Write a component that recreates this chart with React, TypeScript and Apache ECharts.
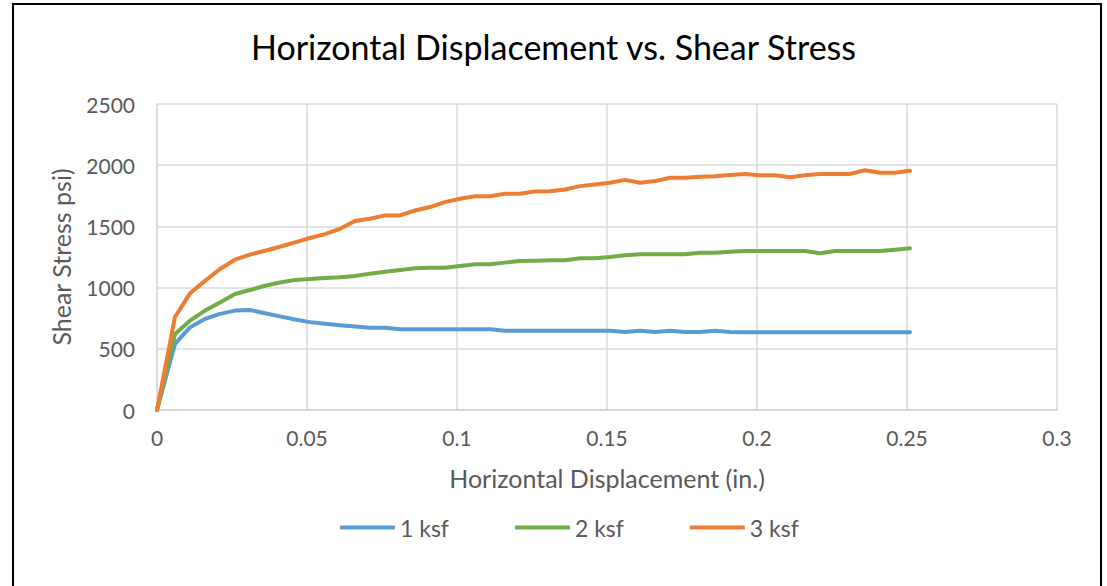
import React, { useEffect, useRef } from "react";
import * as echarts from "echarts";

const displacement = [
  0, 0.006, 0.011, 0.016, 0.021, 0.026, 0.031, 0.036, 0.041, 0.046, 0.051, 0.056, 0.061,
  0.066, 0.071, 0.076, 0.081, 0.086, 0.091, 0.096, 0.101, 0.106, 0.111, 0.116, 0.121, 0.126,
  0.131, 0.136, 0.141, 0.146, 0.151, 0.156, 0.161, 0.166, 0.171, 0.176, 0.181, 0.186, 0.191,
  0.196, 0.201, 0.206, 0.211, 0.216, 0.221, 0.226, 0.231, 0.236, 0.241, 0.246, 0.251,
];

const ksf1 = [
  0, 540, 675, 744, 785, 812, 817, 790, 765, 740, 718, 705, 692,
  682, 672, 672, 660, 660, 660, 660, 660, 660, 660, 648, 648, 648,
  648, 648, 648, 648, 648, 638, 648, 638, 648, 638, 638, 648, 638,
  636, 636, 636, 636, 636, 636, 636, 636, 636, 636, 636, 636,
];

const ksf2 = [
  0, 621, 730, 812, 879, 948, 980, 1015, 1042, 1062, 1070, 1078, 1085,
  1095, 1114, 1130, 1144, 1158, 1163, 1163, 1177, 1190, 1190, 1204, 1217, 1220,
  1223, 1223, 1239, 1239, 1250, 1264, 1272, 1272, 1272, 1272, 1285, 1285, 1292,
  1299, 1299, 1299, 1299, 1299, 1280, 1299, 1299, 1299, 1299, 1310, 1321,
];

const ksf3 = [
  0, 760, 953, 1055, 1152, 1228, 1270, 1301, 1334, 1369, 1405, 1437, 1480,
  1544, 1563, 1590, 1590, 1630, 1658, 1698, 1726, 1747, 1747, 1766, 1766, 1786,
  1788, 1802, 1829, 1842, 1856, 1880, 1856, 1870, 1897, 1897, 1905, 1910, 1920,
  1929, 1918, 1918, 1902, 1918, 1929, 1929, 1929, 1959, 1938, 1938, 1955,
];

const seriesNames = ["1 ksf", "2 ksf", "3 ksf"];
const seriesColors = ["#5B9BD5", "#70AD47", "#ED7D31"];
const seriesValues = [ksf1, ksf2, ksf3];

const FONT = "Lato, 'Open Sans', sans-serif";

export default function App() {
  const ref = useRef<HTMLDivElement>(null);
  useEffect(() => {
    if (!ref.current) return;
    const chart = echarts.init(ref.current, null, { renderer: "svg" });
    chart.setOption({
      animation: false,
      backgroundColor: "#ffffff",
      textStyle: { fontFamily: FONT },
      title: {
        text: "Horizontal Displacement vs. Shear Stress",
        left: "center",
        top: 24,
        textStyle: { fontFamily: FONT, fontSize: 34, fontWeight: "normal", color: "#000000" },
      },
      graphic: [
        {
          type: "rect",
          shape: { x: 13, y: 4, width: 1088, height: 600 },
          style: { fill: "none", stroke: "#000000", lineWidth: 2 },
          silent: true,
          z: 100,
        },
      ],
      legend: {
        bottom: 42,
        left: 335,
        itemWidth: 55,
        itemHeight: 4,
        itemGap: 66,
        icon: "roundRect",
        textStyle: { fontFamily: FONT, fontSize: 23, color: "#595959" },
        data: seriesNames,
      },
      grid: { left: 157, right: 50, top: 104, bottom: 176, containLabel: false },
      xAxis: {
        type: "value",
        min: 0,
        max: 0.3,
        interval: 0.05,
        name: "Horizontal Displacement (in.)",
        nameLocation: "middle",
        nameGap: 55,
        nameTextStyle: { fontFamily: FONT, fontSize: 25, color: "#595959" },
        axisLine: { show: true, lineStyle: { color: "#d0d0d0", width: 1.5 } },
        axisTick: { show: false },
        axisLabel: {
          margin: 17,
          fontFamily: FONT,
          fontSize: 21,
          color: "#595959",
          formatter: (v: number) => String(Number(v.toFixed(3))),
        },
        splitLine: { show: true, lineStyle: { color: "#d9d9d9", width: 1.5 } },
      },
      yAxis: {
        type: "value",
        min: 0,
        max: 2500,
        interval: 500,
        name: "Shear Stress psi)",
        nameLocation: "middle",
        nameGap: 84,
        nameTextStyle: { fontFamily: FONT, fontSize: 25, color: "#595959" },
        axisLine: { show: true, lineStyle: { color: "#d9d9d9", width: 1.5 } },
        axisTick: { show: false },
        axisLabel: {
          margin: 22,
          fontFamily: FONT,
          fontSize: 21,
          color: "#595959",
          formatter: (v: number) => String(v),
        },
        splitLine: { show: true, lineStyle: { color: "#d9d9d9", width: 1.5 } },
      },
      series: seriesNames.map((name, s) => ({
        name,
        type: "line",
        symbol: "none",
        showSymbol: false,
        color: seriesColors[s],
        itemStyle: { color: seriesColors[s] },
        lineStyle: { width: 4, color: seriesColors[s], cap: "round", join: "round" },
        data: displacement.map((x, i) => [x, seriesValues[s][i]]),
      })),
    });
    return () => chart.dispose();
  }, []);
  return (
    <div
      ref={ref}
      style={{ position: "fixed", left: 0, top: 0, width: 1107, height: 586 }}
    />
  );
}
